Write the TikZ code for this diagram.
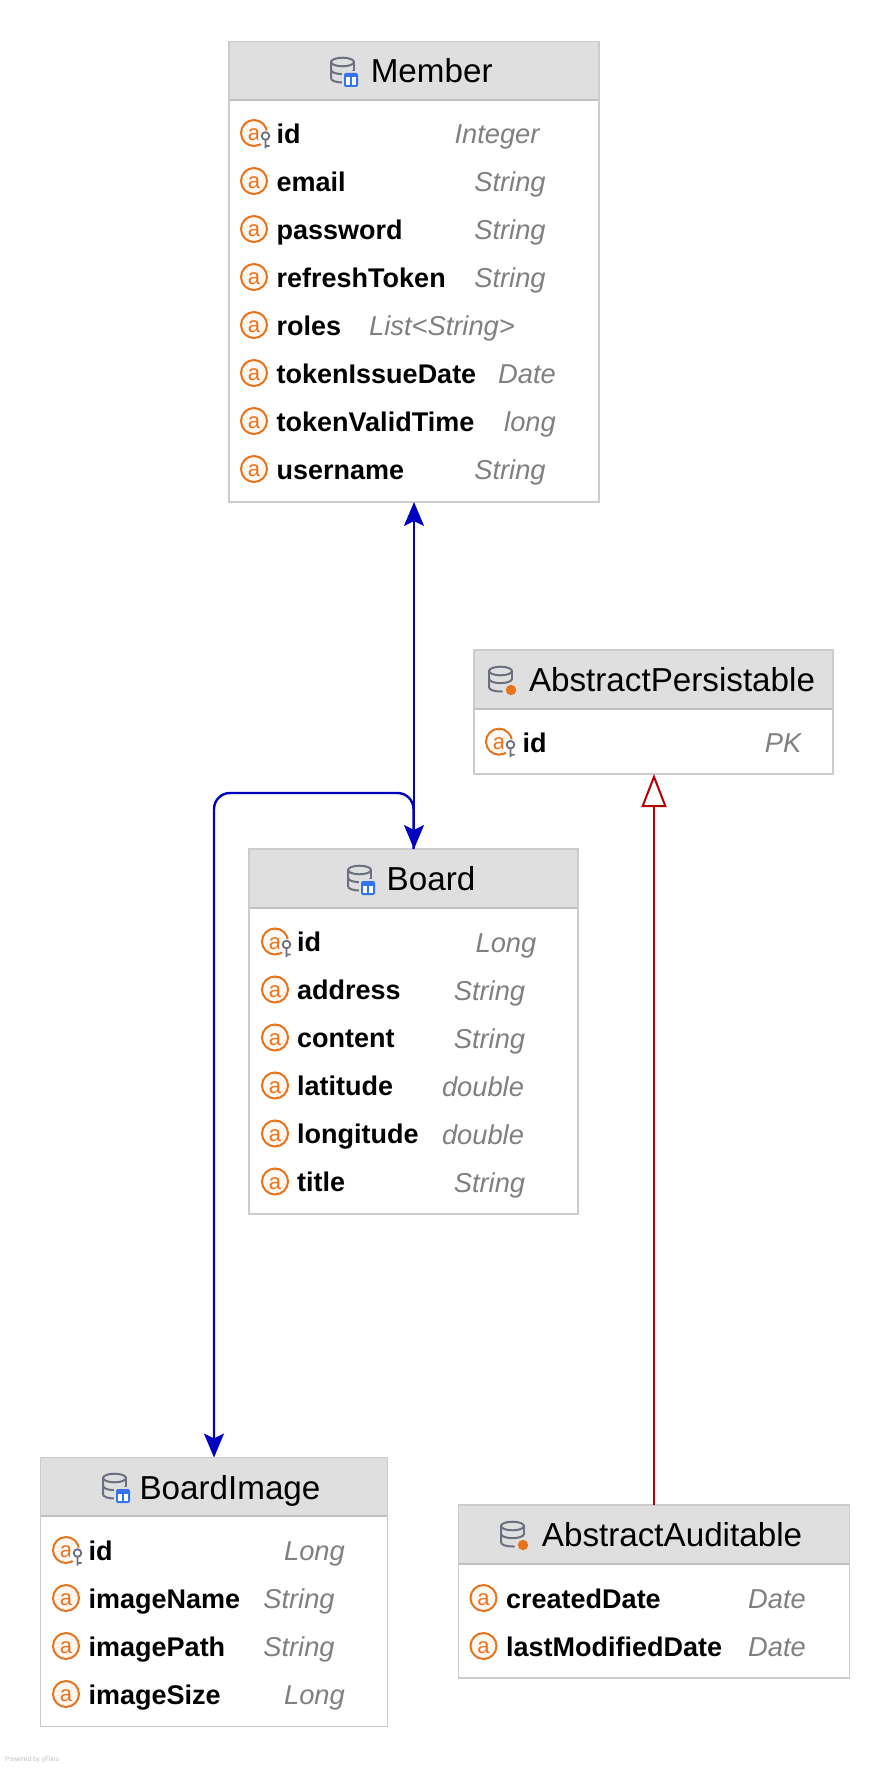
\documentclass[tikz,border=0pt]{standalone}
\usepackage{fontspec}
\setmainfont{Liberation Sans}
\usetikzlibrary{arrows.meta}
\definecolor{boxline}{HTML}{CCCCCC}
\definecolor{headfill}{HTML}{DFDFDF}
\definecolor{sepline}{HTML}{C0C0C0}
\definecolor{attrorange}{HTML}{E9731C}
\definecolor{attrfill}{HTML}{FFF8F2}
\definecolor{icongray}{HTML}{6C707E}
\definecolor{badgeblue}{HTML}{3574F0}
\definecolor{typegray}{HTML}{808080}
\definecolor{linkblue}{HTML}{0000BE}
\definecolor{linkred}{HTML}{B40000}
\tikzset{
  tablebox/.style={draw=boxline,line width=1.1pt,fill=white,inner sep=0pt,outer sep=0pt},
  headbox/.style={fill=headfill,inner sep=0pt,outer sep=0pt},
  title/.style={font=\fontsize{33.2}{33}\selectfont,text=black,anchor=base,inner sep=0pt},
  attrname/.style={font=\fontsize{27}{27}\selectfont\bfseries,text=black,anchor=base west,inner sep=0pt},
  attrtype/.style={font=\fontsize{27.3}{27}\selectfont\itshape,text=typegray,anchor=base,inner sep=0pt},
  attrcirc/.style={draw=attrorange,line width=2pt,fill=attrfill,circle,minimum size=26pt,inner sep=0pt,outer sep=0pt},
  attrletter/.style={font=\fontsize{22}{22}\selectfont,text=attrorange,anchor=base,inner sep=0pt},
  blink/.style={draw=linkblue,line width=2.4pt},
  rlink/.style={draw=linkred,line width=2pt},
  ticon/.style={draw=icongray,line width=2pt,line cap=round},
  btip/.tip={Stealth[length=24pt,width=20pt,inset=5pt]}
}
% \attr{id}{y}{circle x}{name x}{name}{type centre x}{type}
\newcommand{\attr}[7]{%
  \node[attrcirc] (#1c) at (#3,#2) {};
  \node[attrletter] (#1a) at (#3,#2+7.5) {a};
  \node[attrname] (#1n) at (#4,#2+10.3) {#5};
  \node[attrtype] (#1t) at (#6,#2+10.5) {#7};
}
\newcommand{\keyattr}[7]{%
  \attr{#1}{#2}{#3}{#4}{#5}{#6}{#7}
  \fill[white] (#3+11.5,#2+5) circle (7.5);
  \draw[icongray,line width=1.8pt] (#3+11.5,#2+3) circle (3.8)
     (#3+11.5,#2+6.8) -- (#3+11.5,#2+15.5) (#3+11.5,#2+13) -- (#3+15.5,#2+13);
}
\newcommand{\dbcyl}[2]{%
  \draw[ticon] (#1+12.5,#2+5) ellipse (11.5 and 4.3);
  \draw[ticon] (#1+1,#2+5) -- (#1+1,#2+21)
     .. controls (#1+1,#2+24) and (#1+6,#2+25.5) .. (#1+14,#2+25.5);
  \draw[ticon] (#1+24,#2+5) -- (#1+24,#2+13);
  \draw[ticon] (#1+1,#2+13) .. controls (#1+2,#2+18.5) and (#1+23,#2+18.5) .. (#1+24,#2+13);
}
\newcommand{\tblicon}[2]{%
  \dbcyl{#1}{#2}
  \fill[headfill] (#1+12,#2+14) rectangle (#1+30,#2+31.5);
  \fill[badgeblue,rounded corners=2pt] (#1+14,#2+16) rectangle (#1+28,#2+30);
  \fill[white] (#1+16,#2+20.5) rectangle (#1+26,#2+28);
  \fill[badgeblue] (#1+20.1,#2+20.5) rectangle (#1+21.9,#2+28);
}
\newcommand{\absicon}[2]{%
  \dbcyl{#1}{#2}
  \fill[headfill] (#1+23,#2+24) circle (7);
  \fill[attrorange] (#1+23,#2+24) circle (5.2);
}
\begin{document}
\begin{tikzpicture}[x=1pt,y=-1pt]
\useasboundingbox (0,0) rectangle (890,1768);
\fill[white] (0,0) rectangle (890,1768);

% Member
\node[tablebox,minimum width=370pt,minimum height=460pt] (member) at (414,272) {};
\node[headbox,minimum width=368.5pt,minimum height=58pt] (memberhead) at (414,71.5) {};
\draw[sepline,line width=2pt] (memberhead.south west) -- (memberhead.south east);
\tblicon{330}{57}
\node[title] (membertitle) at (431.7,83) {Member};
\keyattr{ma}{133}{254}{276.5}{id}{497}{Integer}
\attr{mb}{181}{254}{276.5}{email}{510}{String}
\attr{mc}{229}{254}{276.5}{password}{510}{String}
\attr{md}{277}{254}{276.5}{refreshToken}{510}{String}
\attr{me}{325}{254}{276.5}{roles}{442}{List<String>}
\attr{mf}{373}{254}{276.5}{tokenIssueDate}{527}{Date}
\attr{mg}{421}{254}{276.5}{tokenValidTime}{530}{long}
\attr{mh}{469}{254}{276.5}{username}{510}{String}

% AbstractPersistable
\node[tablebox,minimum width=359pt,minimum height=124pt] (persist) at (653.5,712) {};
\node[headbox,minimum width=357.5pt,minimum height=58pt] (persisthead) at (653.5,680) {};
\draw[sepline,line width=2pt] (persisthead.south west) -- (persisthead.south east);
\absicon{488}{666}
\node[title] (persisttitle) at (672,691.5) {AbstractPersistable};
\keyattr{pa}{741.7}{499}{522.5}{id}{783}{PK}

% Board
\node[tablebox,minimum width=329pt,minimum height=365pt] (board) at (413.5,1031.5) {};
\node[headbox,minimum width=327.5pt,minimum height=58pt] (boardhead) at (413.5,878.5) {};
\draw[sepline,line width=2pt] (boardhead.south west) -- (boardhead.south east);
\tblicon{347}{865}
\node[title] (boardtitle) at (431,890.5) {Board};
\keyattr{ba}{941.5}{275}{297}{id}{506}{Long}
\attr{bb}{989.5}{275}{297}{address}{489.5}{String}
\attr{bc}{1037.5}{275}{297}{content}{489.5}{String}
\attr{bd}{1085.5}{275}{297}{latitude}{483}{double}
\attr{be}{1133.5}{275}{297}{longitude}{483}{double}
\attr{bf}{1181.5}{275}{297}{title}{489.5}{String}

% BoardImage
\node[tablebox,minimum width=347pt,minimum height=269pt] (image) at (214,1592) {};
\node[headbox,minimum width=345.5pt,minimum height=58pt] (imagehead) at (214,1487) {};
\draw[sepline,line width=2pt] (imagehead.south west) -- (imagehead.south east);
\tblicon{102}{1473}
\node[title] (imagetitle) at (230,1499) {BoardImage};
\keyattr{ia}{1550}{66}{88.5}{id}{314.5}{Long}
\attr{ib}{1598}{66}{88.5}{imageName}{299}{String}
\attr{ic}{1646}{66}{88.5}{imagePath}{299}{String}
\attr{id}{1694}{66}{88.5}{imageSize}{314.5}{Long}

% AbstractAuditable
\node[tablebox,minimum width=391pt,minimum height=173pt] (audit) at (654,1591.5) {};
\node[headbox,minimum width=389.5pt,minimum height=58pt] (audithead) at (654,1534.5) {};
\draw[sepline,line width=2pt] (audithead.south west) -- (audithead.south east);
\absicon{500}{1521}
\node[title] (audittitle) at (672,1546.5) {AbstractAuditable};
\attr{aa}{1598}{483.5}{506}{createdDate}{777}{Date}
\attr{ab}{1646}{483.5}{506}{lastModifiedDate}{777}{Date}

% connectors
\coordinate (elbowa) at (board.north |- 0,793);
\coordinate (elbowb) at (image.north |- 0,793);
\draw[blink,{btip}-{btip}] (member.south) -- (member.south |- board.north);
\draw[blink,rounded corners=16pt,-{btip}] (board.north) -- (elbowa) -- (elbowb) -- (image.north);
\draw[rlink,-{Triangle[open,length=33pt,width=25pt,fill=white]}] (audit.north) -- (persist.south -| audit.north);

\node[font=\fontsize{6.6}{7}\selectfont,text=black!25,anchor=west,inner sep=0pt] (powered) at (5,1760) {Powered by yFiles};
\end{tikzpicture}
\end{document}
